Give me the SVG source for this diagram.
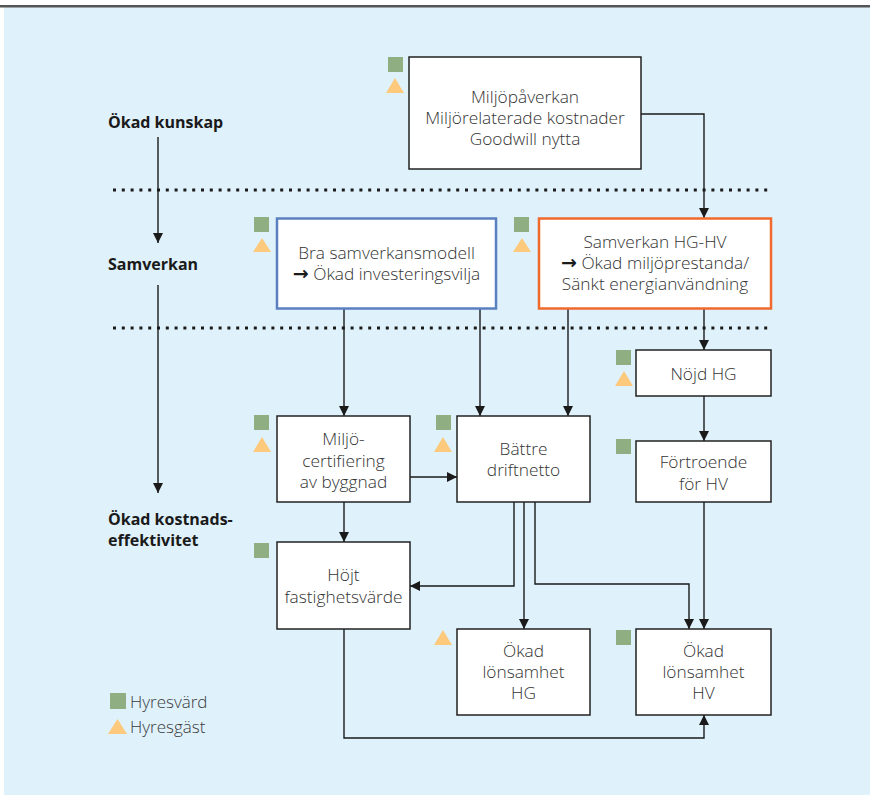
<svg xmlns="http://www.w3.org/2000/svg" width="870" height="795" viewBox="0 0 870 795">
  <style>
    .box { fill: #ffffff; stroke: #222222; stroke-width: 1.5; }
    .lbl { font-family: "Open Sans", "Liberation Sans", sans-serif; font-size: 17.3px; font-weight: 300; fill: #333333; text-anchor: middle; }
    .arr { font-family: "DejaVu Sans", sans-serif; font-size: 19px; font-weight: bold; fill: #1a1a1a; }
    .stage { font-family: "Open Sans", "Liberation Sans", sans-serif; font-size: 16px; font-weight: bold; fill: #1a1a1a; }
    .leg { font-family: "Open Sans", "Liberation Sans", sans-serif; font-size: 17px; font-weight: 300; fill: #3a3a3a; }
    .hv { fill: #8fae82; }
    .hg { fill: #fdc97c; }
    .edge { fill: none; stroke: #1a1a1a; stroke-width: 1.4; }
    .dots { fill: none; stroke: #1a1a1a; stroke-width: 3; stroke-dasharray: 3 5.8; }
  </style>
  <defs>
    <marker id="arrow" markerUnits="userSpaceOnUse" markerWidth="11" markerHeight="11" refX="10" refY="5" orient="auto">
      <path d="M0,0 L10,5 L0,10 Z" fill="#1a1a1a"/>
    </marker>
  </defs>

  <!-- background panel and top rule -->
  <rect x="4" y="7" width="866" height="788" fill="#dff1fb"/>
  <rect x="0" y="5" width="870" height="2.5" fill="#555555"/>

  <!-- stage separators -->
  <line class="dots" x1="113" y1="190" x2="772" y2="190"/>
  <line class="dots" x1="113" y1="328" x2="772" y2="328"/>

  <!-- stage labels -->
  <g id="stage-kunskap"><text class="stage" x="108" y="128">Ökad kunskap</text></g>
  <g id="stage-samverkan"><text class="stage" x="108" y="270">Samverkan</text></g>
  <g id="stage-kostnad">
    <text class="stage" x="108" y="525">Ökad kostnads-</text>
    <text class="stage" x="108" y="546">effektivitet</text>
  </g>

  <!-- connectors -->
  <g id="connectors">
    <path class="edge" d="M158,137 V243" marker-end="url(#arrow)"/>
    <path class="edge" d="M158,285 V493" marker-end="url(#arrow)"/>
    <path class="edge" d="M641,114 H704 V218" marker-end="url(#arrow)"/>
    <path class="edge" d="M344,309 V416" marker-end="url(#arrow)"/>
    <path class="edge" d="M480,309 V416" marker-end="url(#arrow)"/>
    <path class="edge" d="M568,309 V416" marker-end="url(#arrow)"/>
    <path class="edge" d="M704,309 V350" marker-end="url(#arrow)"/>
    <path class="edge" d="M704,396 V441" marker-end="url(#arrow)"/>
    <path class="edge" d="M410,477 H457" marker-end="url(#arrow)"/>
    <path class="edge" d="M344,502 V542" marker-end="url(#arrow)"/>
    <path class="edge" d="M514,502 V586 H410" marker-end="url(#arrow)"/>
    <path class="edge" d="M524,502 V629" marker-end="url(#arrow)"/>
    <path class="edge" d="M535,502 V584 H689 V629" marker-end="url(#arrow)"/>
    <path class="edge" d="M704,502 V629" marker-end="url(#arrow)"/>
    <path class="edge" d="M344,629 V738 H704 V715" marker-end="url(#arrow)"/>
  </g>

  <!-- nodes -->
  <g id="miljopaverkan">
    <rect class="hv" x="388" y="57" width="15" height="15"/>
    <polygon class="hg" points="395,78 404,93 386,93"/>
    <rect class="box" x="409" y="57" width="232" height="112"/>
    <text class="lbl" x="525" y="103">Miljöpåverkan</text>
    <text class="lbl" x="525" y="124">Miljörelaterade kostnader</text>
    <text class="lbl" x="525" y="145">Goodwill nytta</text>
  </g>

  <g id="samverkansmodell">
    <rect class="hv" x="254" y="217" width="15" height="15"/>
    <polygon class="hg" points="262,238 271,252 253,252"/>
    <rect x="277" y="218.5" width="219" height="90" fill="#ffffff" stroke="#5a80c0" stroke-width="2.5"/>
    <text class="lbl" x="386.5" y="259">Bra samverkansmodell</text>
    <text class="lbl" x="386.5" y="280"><tspan class="arr">→</tspan> Ökad investeringsvilja</text>
  </g>

  <g id="samverkan-hg-hv">
    <rect class="hv" x="514" y="217" width="15" height="15"/>
    <polygon class="hg" points="522,238 531,252 513,252"/>
    <rect x="539" y="218.5" width="232" height="90" fill="#ffffff" stroke="#ef6a2c" stroke-width="2.5"/>
    <text class="lbl" x="655" y="248">Samverkan HG-HV</text>
    <text class="lbl" x="655" y="269"><tspan class="arr">→</tspan> Ökad miljöprestanda/</text>
    <text class="lbl" x="655" y="290">Sänkt energianvändning</text>
  </g>

  <g id="nojd-hg">
    <rect class="hv" x="616" y="350" width="15" height="15"/>
    <polygon class="hg" points="624,371 633,386 615,386"/>
    <rect class="box" x="636" y="350" width="135" height="46"/>
    <text class="lbl" x="703.5" y="380">Nöjd HG</text>
  </g>

  <g id="miljocertifiering">
    <rect class="hv" x="254" y="415" width="15" height="15"/>
    <polygon class="hg" points="262,437 271,452 253,452"/>
    <rect class="box" x="277" y="416" width="133" height="86"/>
    <text class="lbl" x="343.5" y="445">Miljö-</text>
    <text class="lbl" x="343.5" y="467">certifiering</text>
    <text class="lbl" x="343.5" y="488">av byggnad</text>
  </g>

  <g id="battre-driftnetto">
    <rect class="hv" x="436" y="415" width="15" height="15"/>
    <polygon class="hg" points="443,437 452,452 434,452"/>
    <rect class="box" x="457" y="416" width="133" height="86"/>
    <text class="lbl" x="523.5" y="455">Bättre</text>
    <text class="lbl" x="523.5" y="476">driftnetto</text>
  </g>

  <g id="fortroende">
    <rect class="hv" x="616" y="439" width="15" height="15"/>
    <rect class="box" x="636" y="441" width="135" height="61"/>
    <text class="lbl" x="703.5" y="468">Förtroende</text>
    <text class="lbl" x="703.5" y="490">för HV</text>
  </g>

  <g id="hojt-fastighetsvarde">
    <rect class="hv" x="254" y="543" width="15" height="15"/>
    <rect class="box" x="277" y="542" width="133" height="87"/>
    <text class="lbl" x="343.5" y="581">Höjt</text>
    <text class="lbl" x="343.5" y="603">fastighetsvärde</text>
  </g>

  <g id="lonsamhet-hg">
    <polygon class="hg" points="443,630 452,645 434,645"/>
    <rect class="box" x="457" y="629" width="133" height="86"/>
    <text class="lbl" x="523.5" y="657">Ökad</text>
    <text class="lbl" x="523.5" y="678">lönsamhet</text>
    <text class="lbl" x="523.5" y="699">HG</text>
  </g>

  <g id="lonsamhet-hv">
    <rect class="hv" x="616" y="630" width="15" height="15"/>
    <rect class="box" x="636" y="629" width="135" height="86"/>
    <text class="lbl" x="703.5" y="657">Ökad</text>
    <text class="lbl" x="703.5" y="678">lönsamhet</text>
    <text class="lbl" x="703.5" y="699">HV</text>
  </g>

  <!-- legend -->
  <g id="legend">
    <rect class="hv" x="110" y="693" width="16" height="16"/>
    <text class="leg" x="130" y="708">Hyresvärd</text>
    <polygon class="hg" points="117.5,719 127,734 108,734"/>
    <text class="leg" x="130" y="733">Hyresgäst</text>
  </g>
</svg>
